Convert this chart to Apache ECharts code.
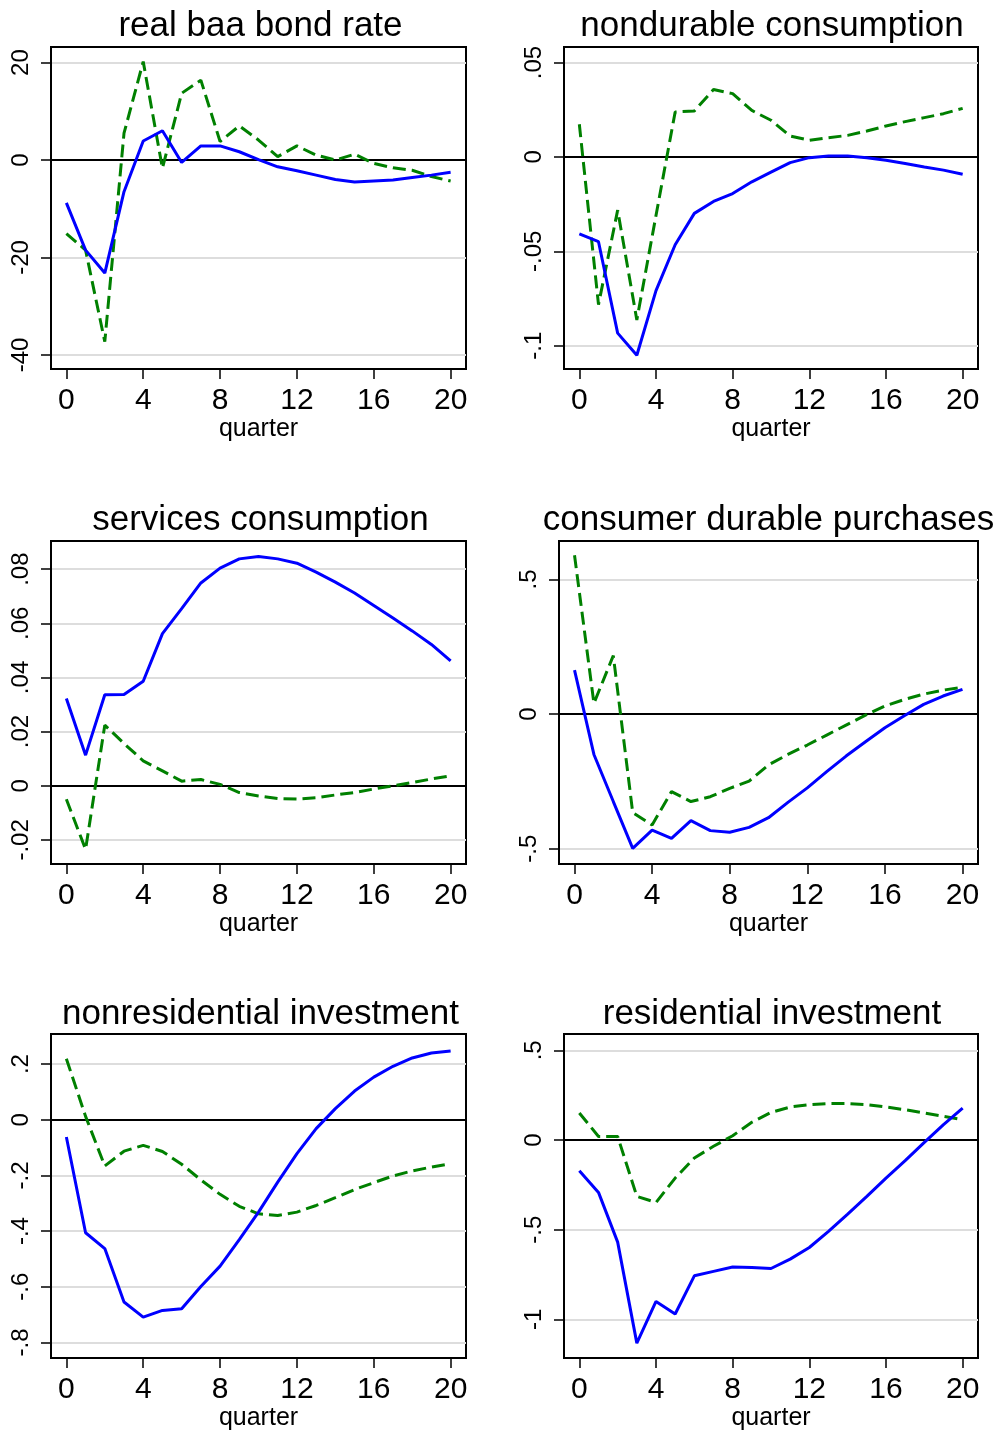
<!DOCTYPE html>
<html>
<head>
<meta charset="utf-8">
<script src="https://cdn.jsdelivr.net/npm/echarts@6/dist/echarts.min.js"></script>
<style>
html,body{margin:0;padding:0;background:#fff;}
#c{width:997px;height:1433px;}
</style>
</head>
<body>
<div id="c"></div>
<script>
// ---- data ----
const quarters = [0,1,2,3,4,5,6,7,8,9,10,11,12,13,14,15,16,17,18,19,20];
const xTicks = [0,4,8,12,16,20];

const titles = ["real baa bond rate","nondurable consumption","services consumption",
  "consumer durable purchases","nonresidential investment","residential investment"];

const bondBlue  = [-8.8,-18.5,-23.2,-6.5,3.9,6.0,-0.5,2.9,2.9,1.7,0.1,-1.4,-2.2,-3.1,-4.0,-4.5,-4.3,-4.1,-3.6,-3.1,-2.5];
const bondGreen = [-15.1,-18.5,-37.3,5.5,20.2,-1.7,13.7,16.4,3.8,7.0,4.1,0.7,2.9,1.0,0.0,1.2,-0.7,-1.6,-2.1,-3.4,-4.3];

const ndBlue  = [-0.0408,-0.0449,-0.0933,-0.105,-0.0708,-0.0465,-0.0299,-0.0236,-0.0194,-0.0132,-0.0081,-0.0030,-0.0004,0.0005,0.0005,-0.0004,-0.0018,-0.0035,-0.0053,-0.0070,-0.0092];
const ndGreen = [0.0173,-0.0782,-0.0282,-0.0863,-0.031,0.0238,0.0243,0.0357,0.0335,0.0246,0.0194,0.0111,0.0088,0.0102,0.0114,0.0137,0.0164,0.0187,0.0208,0.0229,0.0257];

const svBlue  = [0.0322,0.0113,0.0336,0.0337,0.0386,0.0562,0.0654,0.0749,0.0804,0.0838,0.0847,0.0838,0.0822,0.0789,0.0752,0.0712,0.0666,0.0620,0.0572,0.0522,0.0461];
const svGreen = [-0.0050,-0.0235,0.0224,0.0156,0.0092,0.0055,0.0017,0.0023,0.0005,-0.0025,-0.0038,-0.0047,-0.0049,-0.0044,-0.0034,-0.0025,-0.0012,0.0,0.0012,0.0025,0.0037];

const durBlue  = [0.163,-0.150,-0.325,-0.499,-0.431,-0.462,-0.396,-0.433,-0.439,-0.421,-0.385,-0.328,-0.274,-0.214,-0.156,-0.103,-0.051,-0.006,0.036,0.067,0.092];
const durGreen = [0.590,0.040,0.217,-0.366,-0.412,-0.288,-0.325,-0.307,-0.276,-0.249,-0.189,-0.150,-0.115,-0.078,-0.041,-0.004,0.030,0.054,0.074,0.089,0.099];

const nriBlue  = [-0.062,-0.406,-0.463,-0.655,-0.709,-0.685,-0.679,-0.599,-0.526,-0.431,-0.332,-0.224,-0.122,-0.032,0.040,0.103,0.153,0.192,0.222,0.240,0.247];
const nriGreen = [0.219,0.012,-0.166,-0.113,-0.092,-0.114,-0.160,-0.216,-0.268,-0.311,-0.338,-0.344,-0.332,-0.308,-0.280,-0.251,-0.226,-0.202,-0.184,-0.170,-0.158];

const resBlue  = [-0.171,-0.292,-0.569,-1.132,-0.900,-0.970,-0.757,-0.732,-0.708,-0.710,-0.716,-0.664,-0.599,-0.509,-0.413,-0.314,-0.212,-0.115,-0.013,0.086,0.178];
const resGreen = [0.151,0.020,0.020,-0.314,-0.348,-0.212,-0.100,-0.035,0.024,0.099,0.154,0.184,0.197,0.203,0.203,0.197,0.184,0.169,0.151,0.132,0.113];

const yTickVals = [[20,0,-20,-40],[0.05,0,-0.05,-0.1],[0.08,0.06,0.04,0.02,0,-0.02],[0.5,0,-0.5],[0.2,0,-0.2,-0.4,-0.6,-0.8],[0.5,0,-0.5,-1]];
const yTickLabels = [["20","0","-20","-40"],[".05","0","-.05","-.1"],[".08",".06",".04",".02","0","-.02"],[".5","0","-.5"],[".2","0","-.2","-.4","-.6","-.8"],[".5","0","-.5","-1"]];

const blueSeries = [bondBlue, ndBlue, svBlue, durBlue, nriBlue, resBlue];
const greenSeries = [bondGreen, ndGreen, svGreen, durGreen, nriGreen, resGreen];

// ---- layout ----
const yRanges = [[-42.9,23.2],[-0.1123,0.0582],[-0.0289,0.0904],[-0.557,0.643],[-0.856,0.308],[-1.215,0.591]];
const grids = [
  {left:51, top:47, width:415, height:322},
  {left:564, top:47, width:414, height:322},
  {left:51, top:541, width:415, height:323},
  {left:559, top:541, width:419, height:323},
  {left:51, top:1034, width:415, height:324},
  {left:564, top:1034, width:414, height:324}
];
const titleTops = [4,4,498,498,992,992];
const titleShift = [-3,-4,-3,-5,-3,-4];

const FONT = "'Liberation Sans', Arial, Helvetica, sans-serif";
const chart = echarts.init(document.getElementById('c'), null, {renderer:'canvas'});

const option = {
  backgroundColor:'#fff',
  animation:false,
  title: [], grid: [], xAxis: [], yAxis: [], series: []
};

for (let i=0;i<6;i++){
  const g = grids[i];
  option.grid.push(Object.assign({show:true, borderColor:'#000', borderWidth:2, backgroundColor:'#fff', containLabel:false}, g));
  option.title.push({
    text: titles[i], left: g.left + g.width/2 + titleShift[i], top: titleTops[i], textAlign:'center',
    textStyle:{fontFamily:FONT, fontSize:35, fontWeight:'normal', color:'#000'}
  });
  option.xAxis.push({
    type:'value', gridIndex:i, min:-0.8, max:20.8,
    name:'quarter', nameLocation:'middle', nameGap:44,
    nameTextStyle:{fontFamily:FONT, fontSize:25, color:'#000'},
    axisLine:{show:true, onZero:false, lineStyle:{color:'#000', width:2}},
    axisTick:{show:true, length:10, customValues:xTicks, lineStyle:{color:'#000', width:1.5}},
    axisLabel:{show:true, customValues:xTicks, margin:17, fontFamily:FONT, fontSize:30, color:'#000'},
    splitLine:{show:false}
  });
  const tv = yTickVals[i], tl = yTickLabels[i];
  option.yAxis.push({
    type:'value', gridIndex:i, min:yRanges[i][0], max:yRanges[i][1],
    axisLine:{show:true, onZero:false, lineStyle:{color:'#000', width:2}},
    axisTick:{show:true, length:10, customValues:tv, lineStyle:{color:'#000', width:1.5}},
    axisLabel:{show:true, customValues:tv, rotate:90, margin:18, fontFamily:FONT, fontSize:24, color:'#000',
      formatter:(v)=>{ for(let k=0;k<tv.length;k++){ if(Math.abs(tv[k]-v)<1e-9) return tl[k]; } return ''; }},
    splitLine:{show:true, lineStyle:{color:'#dddddd', width:2}}
  });
  option.series.push({
    type:'line', xAxisIndex:i, yAxisIndex:i, z:3,
    data: quarters.map((q,k)=>[q, greenSeries[i][k]]),
    showSymbol:false, symbol:'none',
    lineStyle:{color:'#008000', width:3, type:[13,6]},
    markLine:{silent:true, symbol:['none','none'], label:{show:false},
      lineStyle:{color:'#000', type:'solid', width:2}, data:[{yAxis:0}], z:2}
  });
  option.series.push({
    type:'line', xAxisIndex:i, yAxisIndex:i, z:4,
    data: quarters.map((q,k)=>[q, blueSeries[i][k]]),
    showSymbol:false, symbol:'none',
    lineStyle:{color:'#0000ff', width:3, type:'solid'}
  });
}
chart.setOption(option);
</script>
</body>
</html>
